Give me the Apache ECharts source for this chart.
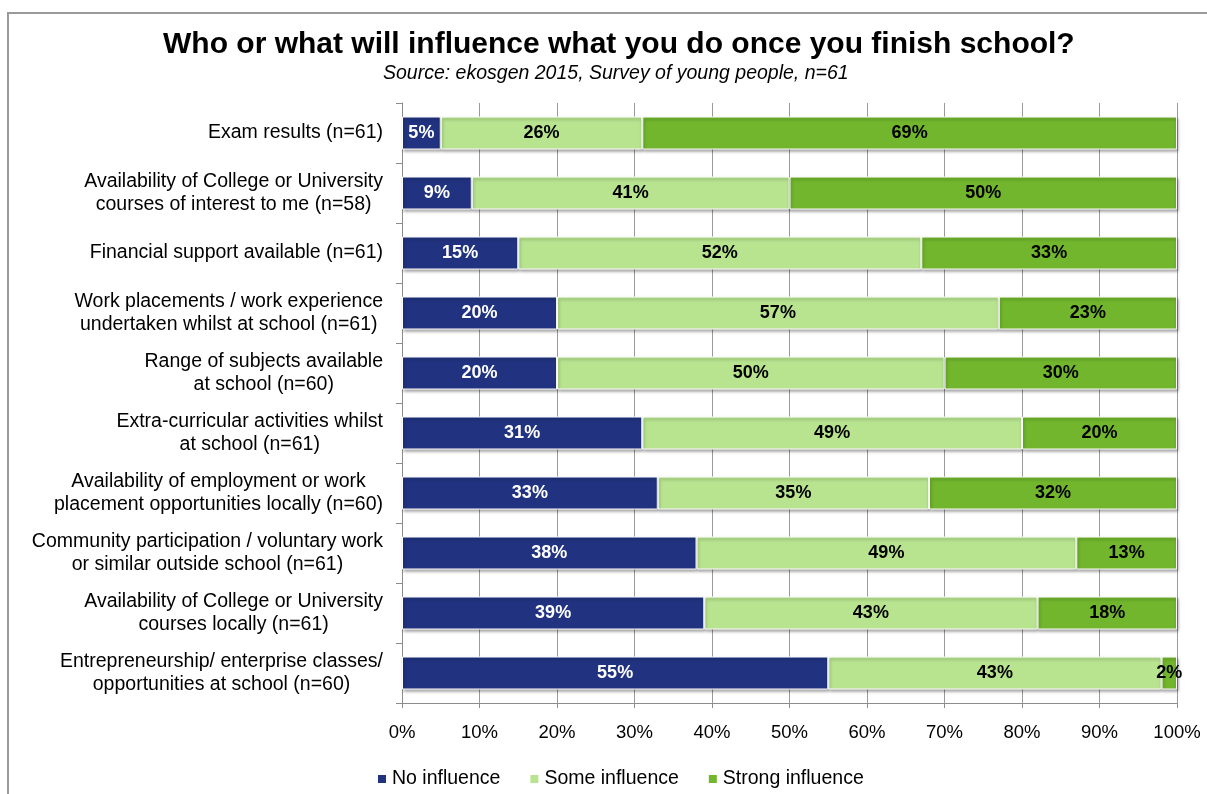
<!DOCTYPE html>
<html>
<head>
<meta charset="utf-8">
<script src="https://cdn.jsdelivr.net/npm/echarts@6/dist/echarts.min.js"></script>
<style>
  html, body { margin: 0; padding: 0; background: #fff; }
  #chart { width: 1207px; height: 794px; }
</style>
</head>
<body>
<div id="chart"></div>
<script>
// Survey items, top to bottom ('\n' marks the line break of the axis label)
const categories = [
  'Exam results (n=61)',
  'Availability of College or University\ncourses of interest to me (n=58)',
  'Financial support available (n=61)',
  'Work placements / work experience\nundertaken whilst at school (n=61)',
  'Range of subjects available\nat school (n=60)',
  'Extra-curricular activities whilst\nat school (n=61)',
  'Availability of employment or work\nplacement opportunities locally (n=60)',
  'Community participation / voluntary work\nor similar outside school (n=61)',
  'Availability of College or University\ncourses locally (n=61)',
  'Entrepreneurship/ enterprise classes/\nopportunities at school (n=60)'
];

// Share of respondents (%) per influence level
const noInfluence     = [5, 9, 15, 20, 20, 31, 33, 38, 39, 55];
const someInfluence   = [26, 41, 52, 57, 50, 49, 35, 49, 43, 43];
const strongInfluence = [69, 50, 33, 23, 30, 20, 32, 13, 18, 2];

const seriesNames = ['No influence', 'Some influence', 'Strong influence'];
const xTickValues = [0, 10, 20, 30, 40, 50, 60, 70, 80, 90, 100];

const FONT = '"Liberation Sans", Arial, sans-serif';
const colors = ['#213380', '#b8e48f', '#71b62c'];
const labelColors = ['#ffffff', '#000000', '#000000'];

function makeSeries(name, data, idx) {
  return {
    name: name,
    type: 'bar',
    stack: 'total',
    barWidth: 33,
    data: data,
    itemStyle: {
      color: colors[idx],
      borderColor: '#ffffff',
      borderWidth: 1,
      shadowColor: 'rgba(0,0,0,0.35)',
      shadowBlur: 3,
      shadowOffsetX: 1,
      shadowOffsetY: 2
    },
    label: {
      show: true,
      position: 'inside',
      formatter: '{c}%',
      color: labelColors[idx],
      fontFamily: FONT,
      fontSize: 18,
      fontWeight: 'bold'
    },
    emphasis: { disabled: true }
  };
}

const chart = echarts.init(document.getElementById('chart'), null, { renderer: 'canvas' });

chart.setOption({
  animation: false,
  backgroundColor: '#ffffff',
  graphic: [{
    type: 'rect',
    shape: { x: 8, y: 13, width: 1400, height: 1000 },
    style: { fill: 'none', stroke: '#9a9a9a', lineWidth: 2 },
    z: -1
  }],
  title: [{
    text: 'Who or what will influence what you do once you finish school?',
    left: 158,
    top: 25,
    textStyle: { fontFamily: FONT, fontSize: 30, fontWeight: 'bold', color: '#000' }
  }, {
    text: 'Source: ekosgen 2015, Survey of young people, n=61',
    left: 378,
    top: 59,
    textStyle: { fontFamily: FONT, fontSize: 19.5, fontStyle: 'italic', fontWeight: 'normal', color: '#000' }
  }],
  legend: {
    data: seriesNames,
    bottom: 0,
    left: 371,
    itemWidth: 10,
    itemHeight: 10,
    itemGap: 28,
    icon: 'rect',
    textStyle: { fontFamily: FONT, fontSize: 19.5, color: '#000' }
  },
  grid: { left: 402, right: 30, top: 103, bottom: 91, containLabel: false },
  xAxis: {
    type: 'value',
    min: xTickValues[0],
    max: xTickValues[xTickValues.length - 1],
    interval: xTickValues[1] - xTickValues[0],
    axisLine: { show: true, lineStyle: { color: '#8c8c8c', width: 1 } },
    axisTick: { show: true, length: 5, lineStyle: { color: '#8c8c8c' } },
    splitLine: { show: true, lineStyle: { color: '#9a9a9a', width: 1 } },
    axisLabel: {
      formatter: '{value}%',
      margin: 20,
      fontFamily: FONT,
      fontSize: 18.5,
      color: '#000'
    }
  },
  yAxis: {
    type: 'category',
    inverse: true,
    data: categories,
    axisLine: { show: true, lineStyle: { color: '#8c8c8c', width: 1 } },
    axisTick: { show: true, length: 6, lineStyle: { color: '#8c8c8c' } },
    axisLabel: {
      margin: 19,
      formatter: function (v) {
        return v.split('\n').map(function (s) { return '{c|' + s + '}'; }).join('\n');
      },
      rich: {
        c: {
          fontFamily: FONT,
          fontSize: 19.5,
          lineHeight: 23,
          color: '#000',
          align: 'center'
        }
      }
    }
  },
  series: [
    makeSeries(seriesNames[0], noInfluence, 0),
    makeSeries(seriesNames[1], someInfluence, 1),
    makeSeries(seriesNames[2], strongInfluence, 2)
  ]
});
</script>
</body>
</html>
